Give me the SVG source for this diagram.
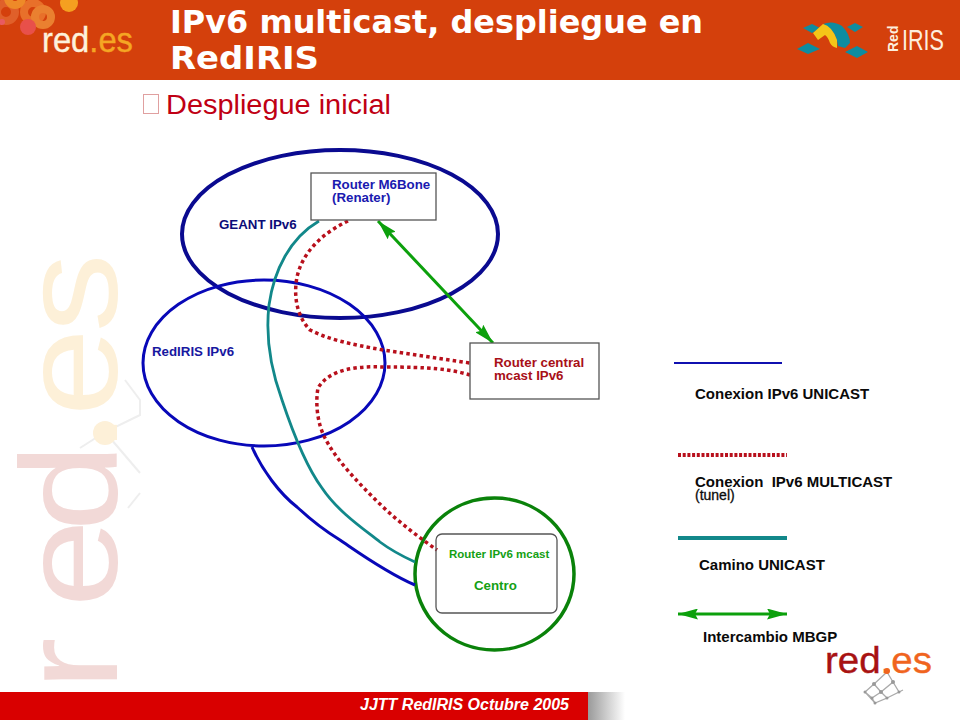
<svg xmlns="http://www.w3.org/2000/svg" width="960" height="720" viewBox="0 0 960 720">
<defs>
<linearGradient id="fade" x1="0" x2="1" y1="0" y2="0"><stop offset="0" stop-color="#9a9a9a"/><stop offset="1" stop-color="#ffffff"/></linearGradient>
<marker id="ah" viewBox="0 0 20 11" refX="20" refY="5.500" markerWidth="20" markerHeight="11" markerUnits="userSpaceOnUse" orient="auto-start-reverse"><path d="M0 0L20 5.500L0 11L3 5.500Z" fill="#0ca00c"/></marker>
</defs>
<style>
.sans{font-family:"Liberation Sans",Arial,sans-serif}
.lbl{font-family:"Liberation Sans",Arial,sans-serif;font-weight:700;font-size:13.300px}
.leg{font-family:"Liberation Sans",Arial,sans-serif;font-weight:700;font-size:15px;fill:#0a0a0a}
.box{fill:#fff;stroke:#555;stroke-width:1.300}
.conn{fill:none}
.mc{stroke:#b8101c;stroke-width:3.500;stroke-dasharray:3.500 3.200}
.tl{stroke:#12888a;stroke-width:2.800}
.bl{stroke:#0808b8;stroke-width:3}
</style>
<rect width="960" height="720" fill="#fff"/>
<g id="watermark">
<g fill="none" stroke="#eeeeee" stroke-width="2"><path d="M125 380L140 400V415L105 432L80 448M105 432L140 473M140 493L128 508"/></g>
<text class="sans" transform="translate(117 681) rotate(-90) scale(1.15 1)" font-size="138" x="-8 64 130 197 230 303"><tspan fill="#f2d9d7">red</tspan><tspan fill="#fdf0d8">.es</tspan></text>
<circle cx="105" cy="433" r="12" fill="#fdf0d8"/>
</g>
<g id="header">
<rect width="960" height="80" fill="#d4400c"/>
<g id="logo-red-es">
<g fill="none" stroke-width="8">
<circle cx="6" cy="12" r="9" stroke="#e0602a"/>
<circle cx="33" cy="12" r="9" stroke="#e8702a"/>
<circle cx="43" cy="17" r="8" stroke="#ea8030"/>
<circle cx="15" cy="-2" r="7" stroke="#ee8a28"/>
</g>
<circle cx="28" cy="27" r="8" fill="#e8504a"/>
<circle cx="2" cy="22" r="3" fill="#e85a60"/>
<circle cx="69" cy="3" r="9" fill="#f5a020"/>
<text class="sans" x="42" y="52" font-size="35" textLength="91" lengthAdjust="spacingAndGlyphs" stroke-width="0.400"><tspan fill="#fdf2dc" stroke="#fdf2dc">red</tspan><tspan fill="#f5a623" stroke="#f5a623">.es</tspan></text>
</g>
<g id="title" font-family="DejaVu Sans,sans-serif" font-weight="700" font-size="32" fill="#fff">
<text x="170" y="33" textLength="533" lengthAdjust="spacingAndGlyphs">IPv6 multicast, despliegue en</text>
<text x="170" y="69" textLength="149" lengthAdjust="spacingAndGlyphs">RedIRIS</text>
</g>
<g id="logo-rediris">
<path d="M803 28L812 24L820 28L812 33Z M847 27L855 23L863 27L855 32Z M797 49L808 43L820 49L808 54Z M845 52L857 46L868 52L857 58Z" fill="#0e8ca0"/>
<path d="M823 24Q833 20 842 26Q850 34 850 43L845 48L838 46Q836 30 823 24Z" fill="#0e8ca0"/>
<path d="M813 33L823 24Q832 26 837 40L837 48Q832 47 830 43Q828 37 825 35L818 40Z" fill="#f5c518"/>
<text class="sans" transform="translate(898 52) rotate(-90)" font-size="14" font-weight="700" fill="#fdeede">Red</text>
<text class="sans" x="902" y="50" font-size="30" textLength="42" lengthAdjust="spacingAndGlyphs" fill="#fdeede">IRIS</text>
</g>
</g>
<g id="subtitle">
<rect x="143.500" y="94.500" width="15" height="19" fill="none" stroke="#e0a0a0" stroke-width="1"/>
<text class="sans" x="166" y="114" font-size="27" fill="#c00014" textLength="225" lengthAdjust="spacingAndGlyphs">Despliegue inicial</text>
</g>
<g id="GEANT"><ellipse cx="340" cy="234" rx="158" ry="84" fill="none" stroke="#0a0a90" stroke-width="4"/><text class="lbl" x="219" y="229" fill="#0c0c78">GEANT IPv6</text></g>
<g id="RedIRIS"><ellipse cx="264" cy="363" rx="121" ry="83" fill="none" stroke="#0808b8" stroke-width="3"/><text class="lbl" x="152" y="356" fill="#1818a0">RedIRIS IPv6</text></g>
<g id="Centro-circle"><ellipse cx="494.500" cy="574" rx="79.500" ry="76" fill="none" stroke="#0a820a" stroke-width="3.500"/></g>
<g id="connectors">
<path class="conn tl" d="M319 221C290 238 274 270 269 305C265 340 271 370 282 400C292 430 305 465 322 488C338 512 365 530 380 542C392 551 404 557 415 562"/>
<path class="conn mc" d="M348 221C325 232 303 250 297 277C293 298 298 318 310 330C330 340 350 344 383 350L470 363"/>
<path class="conn mc" d="M470 375C450 369 430 367 383 367C360 366 330 368 318 388C315 405 318 425 325 438C335 458 355 480 383 507C400 523 420 538 437 550"/>
<path class="conn bl" d="M252 447C262 470 280 494 297 507C312 521 325 531 340 540C355 550 385 572 415 585"/>
<path class="conn" stroke="#0ca00c" stroke-width="3" d="M378 221L493 343" marker-start="url(#ah)" marker-end="url(#ah)"/>
</g>
<g id="router-m6bone"><rect class="box" x="311" y="173" width="125" height="47"/><text class="lbl" x="332" y="189" fill="#1a1ab0">Router M6Bone</text><text class="lbl" x="332" y="201.500" fill="#1a1ab0">(Renater)</text></g>
<g id="router-central"><rect class="box" x="470" y="343" width="129" height="56"/><text class="lbl" x="494" y="367" fill="#a81018">Router central</text><text class="lbl" x="494" y="380" fill="#a81018">mcast IPv6</text></g>
<g id="router-centro"><rect class="box" x="436" y="534" width="121" height="79" rx="6" style="fill:none"/><text class="sans" x="449" y="558" font-size="11.500" font-weight="700" fill="#14a014">Router IPv6 mcast</text><text class="lbl" x="474" y="590" fill="#14a014">Centro</text></g>
<g id="legend">
<path d="M674 363H782" stroke="#1010b0" stroke-width="2" fill="none"/>
<text class="leg" x="695" y="399">Conexion IPv6 UNICAST</text>
<path d="M678 455H787" fill="none" stroke="#b8101c" stroke-width="4" stroke-dasharray="3 1.700"/>
<text class="leg" x="695" y="487" xml:space="preserve">Conexion  IPv6 MULTICAST</text>
<text class="sans" x="695" y="500" font-size="14" fill="#0a0a0a" stroke="#0a0a0a" stroke-width="0.300">(tunel)</text>
<path d="M678 538H787" stroke="#12888a" stroke-width="4" fill="none"/>
<text class="leg" x="699" y="570">Camino UNICAST</text>
<path d="M678 614H787" stroke="#0ca00c" stroke-width="3" fill="none" marker-start="url(#ah)" marker-end="url(#ah)"/>
<text class="leg" x="703" y="642">Intercambio MBGP</text>
</g>
<g id="logo-small">
<g fill="none" stroke="#aaaaaa" stroke-width="1.300"><path d="M887 672L874 684L881 692L887 698L875 703L865 692L874 684M887 672L893 682L881 692L872 698L875 703M865 692L872 698M893 682L899 692L887 698M899 692L903 690"/></g>
<g fill="#999999"><circle cx="874" cy="684" r="2"/><circle cx="893" cy="682" r="2"/><circle cx="881" cy="692" r="2"/><circle cx="899" cy="692" r="1.500"/><circle cx="887" cy="698" r="1.500"/><circle cx="865" cy="692" r="1.500"/><circle cx="872" cy="698" r="1.500"/><circle cx="875" cy="703" r="1.500"/></g>
<text class="sans" x="825" y="673" font-size="36" textLength="107" lengthAdjust="spacingAndGlyphs" stroke-width="0.400"><tspan fill="#a81212" stroke="#a81212">red</tspan><tspan fill="#f0641e" stroke="#f0641e">.es</tspan></text>
<circle cx="887" cy="671" r="3" fill="#f0641e"/>
</g>
<g id="footer">
<rect x="0" y="692" width="588" height="28" fill="#d90000"/>
<rect x="588" y="692" width="37" height="28" fill="url(#fade)"/>
<text class="sans" x="569" y="709.500" text-anchor="end" font-size="16" font-weight="700" font-style="italic" fill="#fff">JJTT RedIRIS Octubre 2005</text>
</g>
</svg>
